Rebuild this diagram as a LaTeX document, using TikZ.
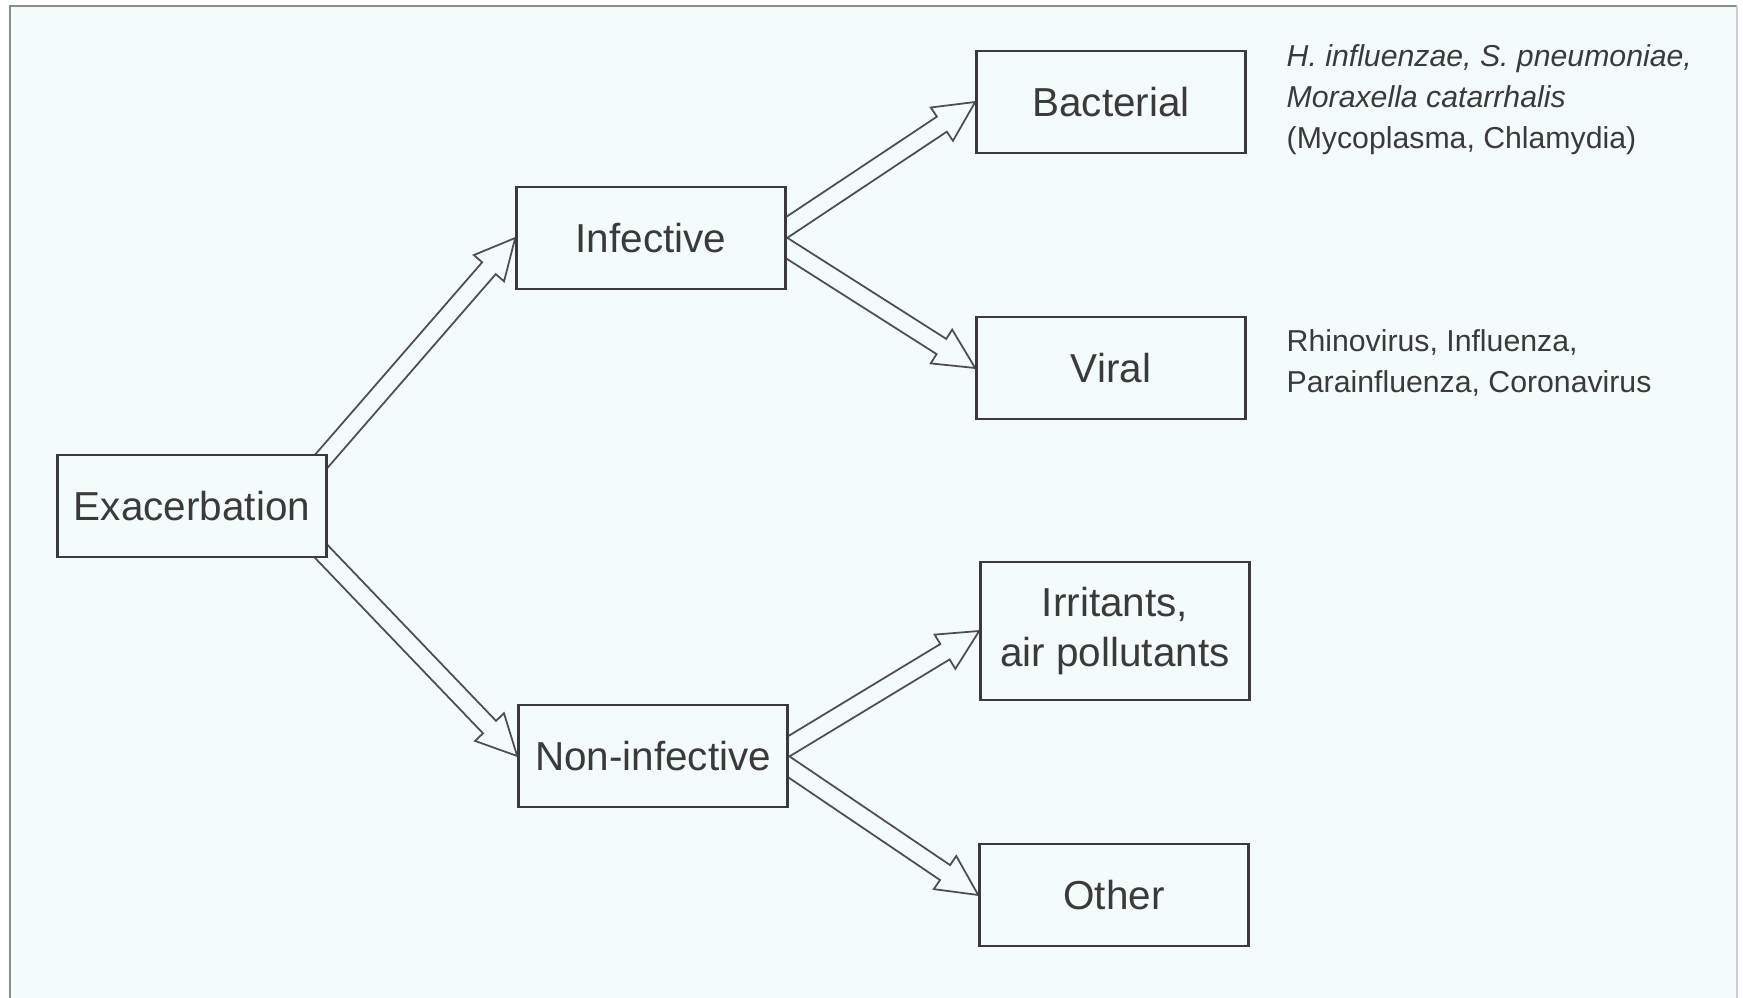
\documentclass[tikz,border=0pt]{standalone}
\usepackage{fontspec}
\setmainfont{Liberation Sans}
\usetikzlibrary{calc,positioning}
\definecolor{paper}{HTML}{F3FBFB}
\definecolor{ink}{HTML}{3A3A3A}
\definecolor{rim}{HTML}{8E8E8E}
\pgfdeclarelayer{back}
\pgfdeclarelayer{links}
\pgfsetlayers{back,links,main}
% hollow wide arrow: [back-off]{from}{to}
\newcommand{\fatarrow}[3][0.15cm]{%
  \draw[link] ($(#2)!-#1!(#3)!0.09cm!90:(#3)$) -- ($(#3)!0.4cm!(#2)!0.09cm!-90:(#2)$)
    -- ($(#3)!0.4cm!(#2)!0.2cm!-90:(#2)$) -- (#3)
    -- ($(#3)!0.4cm!(#2)!0.2cm!90:(#2)$) -- ($(#3)!0.4cm!(#2)!0.09cm!90:(#2)$)
    -- ($(#2)!-#1!(#3)!0.09cm!-90:(#3)$);}

\begin{document}
\begin{tikzpicture}[x=0.01cm,y=-0.01cm,
    box/.style={draw=ink,line width=0.7pt,fill=paper,text=ink,minimum width=2.69cm,
      minimum height=1.02cm,align=center,font=\fontsize{11.5}{14.2}\selectfont},
    link/.style={draw=ink!90,line width=0.5pt,fill=paper},
    note/.style={text=ink,align=left,anchor=west,inner sep=0pt,font=\fontsize{8.6}{11.7}\selectfont}]
	\useasboundingbox (0,0) rectangle (1743,998);
	\begin{pgfonlayer}{back}
		\fill[white] (0,0) rectangle (1743,998);
		\fill[paper] (10,6) rectangle (1737,998);
		\draw[rim,line width=0.8pt] (10,998) -- (10,6) -- (1737,6);
		\draw[rim!45,line width=0.5pt] (1737,6) -- (1737,998);
	\end{pgfonlayer}
	% boxes
	\node[box] (exa) at (192,506) {Exacerbation};
	\node[box] (inf) at (651,238) {Infective};
	\node[box] (non) at (653,756) {Non-infective};
	\node[box] (bac) at (1111,102) {Bacterial};
	\node[box] (vir) at (1111,368) {Viral};
	\node[box,minimum height=1.38cm] (irr) at (1115,631) {Irritants,\\air pollutants};
	\node[box] (oth) at (1114,895) {Other};
	% organisms
	\node[note] (bacnote) at (1286,100) {{\itshape H. influenzae, S. pneumoniae,}\\{\itshape Moraxella catarrhalis}\\(Mycoplasma, Chlamydia)};
	\node[note] (virnote) at (1286,363) {Rhinovirus, Influenza,\\Parainfluenza, Coronavirus};
	% arrows
	\coordinate (infout) at ($(inf.east)+(-16,0)$);
	\coordinate (nonout) at ($(non.east)+(-16,0)$);
	\begin{pgfonlayer}{links}
		\fatarrow{exa.north east}{inf.west}
		\fatarrow{exa.south east}{non.west}
		\fatarrow[0.1cm]{infout}{bac.west}
		\fatarrow[0.1cm]{infout}{vir.west}
		\fatarrow[0.1cm]{nonout}{irr.west}
		\fatarrow[0.1cm]{nonout}{oth.west}
	\end{pgfonlayer}
\end{tikzpicture}
\end{document}
